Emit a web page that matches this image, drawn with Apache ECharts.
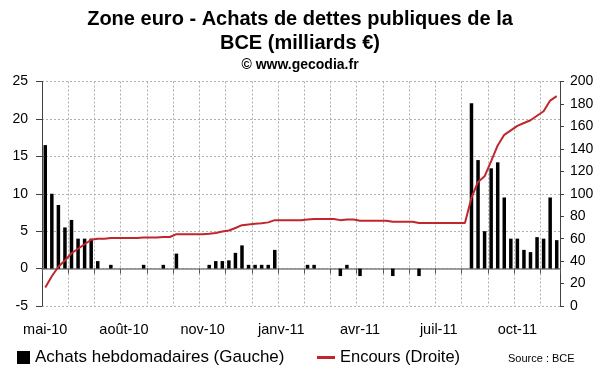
<!DOCTYPE html>
<html>
<head>
<meta charset="utf-8">
<script src="https://cdn.jsdelivr.net/npm/echarts@6/dist/echarts.min.js"></script>
<style>
html,body{margin:0;padding:0;background:#fff;}
#chart{width:600px;height:372px;}
</style>
</head>
<body>
<div id="chart"></div>
<script>
var weeks = [
 '10/05/10','17/05/10','24/05/10','31/05/10','07/06/10','14/06/10','21/06/10','28/06/10',
 '05/07/10','12/07/10','19/07/10','26/07/10','02/08/10','09/08/10','16/08/10','23/08/10','30/08/10',
 '06/09/10','13/09/10','20/09/10','27/09/10','04/10/10','11/10/10','18/10/10','25/10/10',
 '01/11/10','08/11/10','15/11/10','22/11/10','29/11/10','06/12/10','13/12/10','20/12/10','27/12/10',
 '03/01/11','10/01/11','17/01/11','24/01/11','31/01/11','07/02/11','14/02/11','21/02/11','28/02/11',
 '07/03/11','14/03/11','21/03/11','28/03/11','04/04/11','11/04/11','18/04/11','25/04/11',
 '02/05/11','09/05/11','16/05/11','23/05/11','30/05/11','06/06/11','13/06/11','20/06/11','27/06/11',
 '04/07/11','11/07/11','18/07/11','25/07/11','01/08/11','08/08/11','15/08/11','22/08/11','29/08/11',
 '05/09/11','12/09/11','19/09/11','26/09/11','03/10/11','10/10/11','17/10/11','24/10/11','31/10/11',
 '07/11/11'
];
var tickLabels = ['mai-10','août-10','nov-10','janv-11','avr-11','juil-11','oct-11'];
var achats = [
 16.5,10,8.5,5.5,6.5,4,4,4,1,0,
 0.5,0,0,0,0,0.5,0,0,0.5,0,
 2,0,0,0,0,0.5,1,1,1.1,2.1,
 3.1,0.5,0.5,0.5,0.5,2.5,0,0,0,0,
 0.5,0.5,0,0,0,-1,0.5,0,-1,0,
 0,0,0,-1,0,0,0,-1,0,0,
 0,0,0,0,0,22.1,14.5,5,13.4,14.2,
 9.5,4,4,2.5,2.2,4.2,4,9.5,3.8
];
var encours = [
 16.5,26.5,35,40.5,47,51,55,59,60,60,
 60.5,60.5,60.5,60.5,60.5,61,61,61,61.5,61.5,
 64,64,64,64,64,64.3,65,66.3,67.3,69.5,
 72,72.7,73.2,73.7,74.5,76.5,76.5,76.5,76.5,76.5,
 77,77.5,77.5,77.5,77.5,76.5,77,77,76,76,
 76,76,76,75,75,75,75,74,74,74,
 74,74,74,74,74,96.5,110.5,115.5,129,143,
 152.5,156.5,160.5,163,165.5,169.5,173.5,183,187
];
var leftTicks = {min:-5, max:25, step:5};
var rightTicks = {min:0, max:200, step:20};

var FONT = '"Liberation Sans", Arial, sans-serif';
var chart = echarts.init(document.getElementById('chart'), null, {renderer:'canvas'});
var dotted = {color:'#b0b0b0', type:[2,2], width:1};
chart.setOption({
  animation:false,
  backgroundColor:'#ffffff',
  textStyle:{fontFamily:FONT},
  title:[
    {text:'Zone euro - Achats de dettes publiques de la\nBCE (milliards €)', left:300, top:7, padding:0, textAlign:'center',
     textStyle:{fontFamily:FONT, fontSize:20, fontWeight:'bold', color:'#000', lineHeight:24}},
    {text:'© www.gecodia.fr', left:300, top:57, padding:0, textAlign:'center',
     textStyle:{fontFamily:FONT, fontSize:14, fontWeight:'bold', color:'#000', lineHeight:16}},
    {text:'Source : BCE', left:508, top:353, padding:0,
     textStyle:{fontFamily:FONT, fontSize:11, fontWeight:'normal', color:'#000'}}
  ],
  legend:[
    {data:['Achats hebdomadaires (Gauche)'], left:17, top:349, padding:0, icon:'rect', itemWidth:13, itemHeight:13, itemGap:5,
     textStyle:{fontFamily:FONT, fontSize:17, color:'#000'}},
    {data:['Encours (Droite)'], left:317, top:349, padding:0, icon:'rect', itemWidth:18, itemHeight:3, itemGap:5,
     textStyle:{fontFamily:FONT, fontSize:16.5, color:'#000'}}
  ],
  grid:{left:42, right:40, top:81.5, bottom:66, containLabel:false},
  xAxis:[
    {type:'category', data:weeks, position:'bottom', boundaryGap:true,
     axisLine:{show:false, onZero:false},
     axisTick:{show:false},
     axisLabel:{interval:11, margin:16, fontSize:14.5, color:'#000', fontFamily:FONT,
       formatter:function(v, i){ return i % 12 === 0 ? tickLabels[i/12] : ''; }},
     splitLine:{show:true, interval:3, lineStyle:dotted}},
    {type:'category', data:weeks, position:'bottom', boundaryGap:true,
     axisLine:{show:true, onZero:true, onZeroAxisIndex:0, lineStyle:{color:'#808080', width:1.5}},
     axisTick:{show:true, interval:3, length:5, lineStyle:{color:'#555', width:1}},
     axisLabel:{show:false},
     splitLine:{show:false}}
  ],
  yAxis:[
    {type:'value', position:'left', min:leftTicks.min, max:leftTicks.max, interval:leftTicks.step,
     axisLine:{show:true, lineStyle:{color:'#404040', width:1}},
     axisTick:{show:true, length:6, lineStyle:{color:'#404040'}},
     axisLabel:{margin:14, fontSize:14, color:'#000', fontFamily:FONT},
     splitLine:{show:true, lineStyle:dotted}},
    {type:'value', position:'right', min:rightTicks.min, max:rightTicks.max, interval:rightTicks.step,
     axisLine:{show:true, lineStyle:{color:'#404040', width:1}},
     axisTick:{show:true, length:4, lineStyle:{color:'#404040'}},
     axisLabel:{margin:10, fontSize:14, color:'#000', fontFamily:FONT},
     splitLine:{show:false}}
  ],
  series:[
    {name:'Achats hebdomadaires (Gauche)', type:'bar', xAxisIndex:0, yAxisIndex:0, data:achats,
     barWidth:3.5, itemStyle:{color:'#000'}, z:2},
    {name:'Encours (Droite)', type:'line', xAxisIndex:0, yAxisIndex:1, data:encours,
     showSymbol:false, symbol:'none', lineStyle:{color:'#bf272c', width:2}, itemStyle:{color:'#bf272c'}, z:3}
  ]
});
</script>
</body>
</html>
